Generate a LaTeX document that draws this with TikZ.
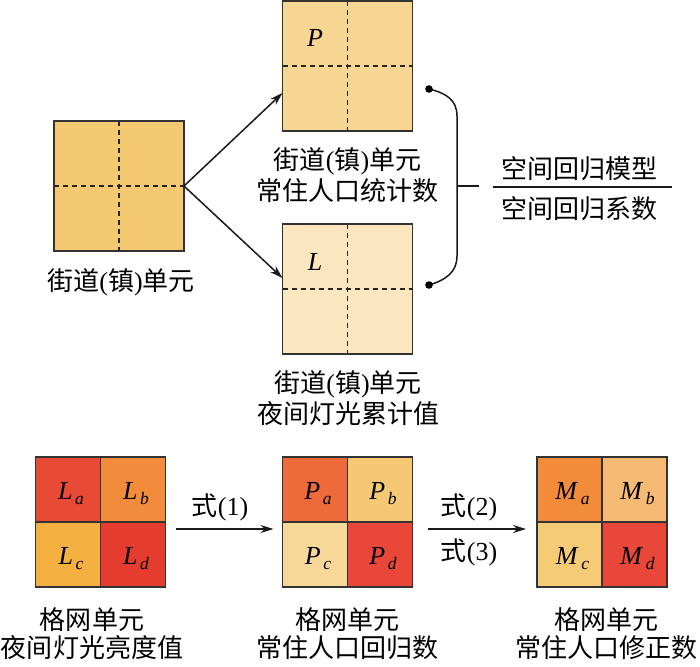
\documentclass[tikz,border=0pt]{standalone}
\usepackage{fontspec}
\setmainfont{Liberation Serif}
\newfontfamily\cjk{Noto Sans CJK SC}
\usetikzlibrary{arrows.meta,calc}
\definecolor{bordc}{HTML}{333333}
\definecolor{cSrc}{HTML}{F5C872}
\definecolor{cP}{HTML}{F7D593}
\definecolor{cL}{HTML}{FCE6C0}
\definecolor{cLa}{HTML}{E84A35}
\definecolor{cLb}{HTML}{F28C3C}
\definecolor{cLc}{HTML}{F4B040}
\definecolor{cLd}{HTML}{E63C30}
\definecolor{cPa}{HTML}{EE6A3A}
\definecolor{cPb}{HTML}{F6C874}
\definecolor{cPc}{HTML}{F8D898}
\definecolor{cPd}{HTML}{E8473A}
\definecolor{cMa}{HTML}{F28C3A}
\definecolor{cMb}{HTML}{F5BA73}
\definecolor{cMc}{HTML}{F6CB75}
\definecolor{cMd}{HTML}{E8473A}
\newcommand\zjd{{\cjk 街道}({\cjk 镇}){\cjk 单元}}
\newcommand\vsub[2]{\textit{#1}\hspace{2.5pt}\raisebox{-5pt}{\fontsize{17.5}{17.5}\selectfont\textit{#2}}}
\begin{document}
\begin{tikzpicture}[x=1pt,y=-1pt,
  box/.style={draw=bordc, line width=1.6pt, minimum size=130pt, inner sep=0pt, outer sep=0pt},
  cell/.style={draw=bordc, line width=1.6pt, minimum size=65pt, inner sep=0pt, outer sep=0pt},
  dsh/.style={draw=black!85, line width=1.4pt, dash pattern=on 5pt off 4pt},
  arr/.style={draw=black!90, line width=1.5pt, -{Stealth[length=13pt,width=8pt]}},
  txt/.style={font=\fontsize{26}{31}\selectfont, align=center, inner sep=0pt},
  btxt/.style={font=\fontsize{26}{28}\selectfont, align=center, inner sep=0pt},
  var/.style={font=\fontsize{26}{26}\selectfont, inner sep=0pt, anchor=base}]
\useasboundingbox (0,0) rectangle (700,666);

% ---------- top part ----------
\node[box, fill=cSrc] (src) at (119,186) {};
\node[box, fill=cP] (P) at (347.5,66) {};
\node[box, fill=cL] (L) at (347.5,289) {};
\foreach \b in {src,P,L}{
  \draw[dsh] (\b.north) -- (\b.south);
  \draw[dsh] (\b.west) -- (\b.east);
}
\node[var] (Pv) at (315,47) {\textit{P}};
\node[var] (Lv) at (315,270) {\textit{L}};

\draw[arr] (src.east) -- ([yshift=-27pt]P.west);
\draw[arr] (src.east) -- ([yshift=11pt]L.west);

\node[txt] (srct) at (121,282) {\zjd};
\node[txt] (Pt) at (347.5,175) {\zjd\\{\cjk 常住人口统计数}};
\node[txt] (Lt) at (348,398) {\zjd\\{\cjk 夜间灯光累计值}};

% brace
\coordinate (d1) at (429,89);
\coordinate (d2) at (429,285);
\coordinate (bm) at (457,186);
\coordinate (bt) at (479,186);
\draw[line width=1.5pt, black!90] (d1) .. controls (446,93) and (457,100) .. (457,116)
  -- (457,256) .. controls (457,272) and (446,280) .. (d2);
\draw[line width=1.5pt, black!90] (bm) -- (bt);
\fill[black] (d1) circle (3.8pt);
\fill[black] (d2) circle (3.8pt);

% fraction
\node[txt] (fm) at (579,169) {\cjk 空间回归模型};
\node[txt] (fc) at (579,209) {\cjk 空间回归系数};
\coordinate (fl) at (493,187);
\coordinate (fr) at (672,187);
\draw[line width=1.5pt, black!90] (fl) -- (fr);

% ---------- bottom part ----------
\node[box] (gL) at (100.5,522) {};
\node[box] (gP) at (347.5,522) {};
\node[box] (gM) at (602,522) {};

\foreach \g/\n/\v in {gL/L/L, gP/P/P, gM/M/M}{
  \node[cell, fill=c\n a, anchor=south east] (\n a) at (\g.center) {};
  \node[cell, fill=c\n b, anchor=south west] (\n b) at (\g.center) {};
  \node[cell, fill=c\n c, anchor=north east] (\n c) at (\g.center) {};
  \node[cell, fill=c\n d, anchor=north west] (\n d) at (\g.center) {};
  \foreach \s in {a,b,c,d}{
    \node[var] (\n\s t) at ([xshift=3pt,yshift=-10pt]\n\s.center) {\vsub{\v}{\s}};
  }
}

\draw[arr] ([xshift=10pt,yshift=-7pt]gL.east) -- ([xshift=-9pt,yshift=-7pt]gP.west);
\draw[arr] ([xshift=15pt,yshift=-7pt]gP.east) -- ([xshift=-11pt,yshift=-7pt]gM.west);
\node[txt] (e1) at (220,507) {{\cjk 式}(1)};
\node[txt] (e2) at (469,507) {{\cjk 式}(2)};
\node[txt] (e3) at (469,552) {{\cjk 式}(3)};

\node[btxt] (gLt) at (92,634) {{\cjk 格网单元}\\{\cjk 夜间灯光亮度值}};
\node[btxt] (gPt) at (347,634) {{\cjk 格网单元}\\{\cjk 常住人口回归数}};
\node[btxt] (gMt) at (606,634) {{\cjk 格网单元}\\{\cjk 常住人口修正数}};
\end{tikzpicture}
\end{document}
